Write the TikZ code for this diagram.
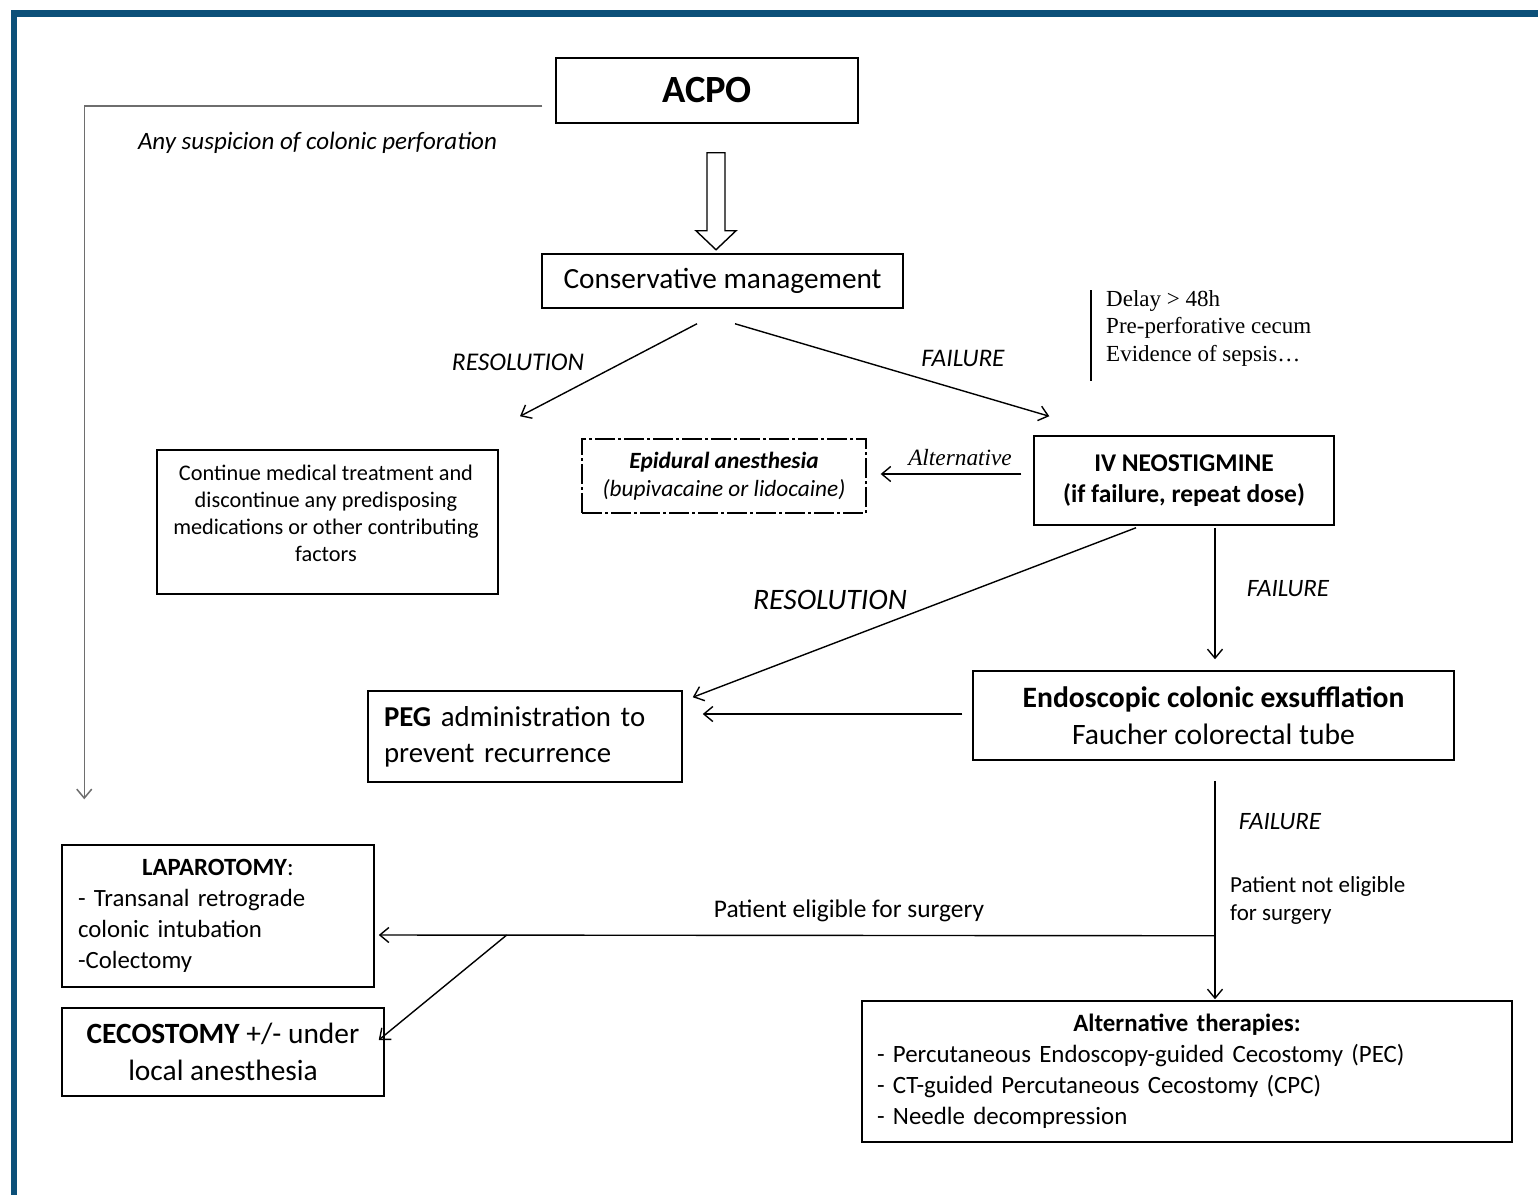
\documentclass[tikz,border=0pt]{standalone}
\usepackage{fontspec}
\setmainfont{Carlito}
\newfontfamily\tms{Liberation Serif}
\usetikzlibrary{arrows.meta,calc}
\definecolor{framecol}{RGB}{12,80,121}
\definecolor{greyline}{RGB}{110,110,110}
\newcommand\setfs[2]{\fontsize{#1}{#2}\selectfont}
\begin{document}
\begin{tikzpicture}[x=1pt,y=-1pt,
  box/.style={draw,line width=1.5pt,inner sep=0pt},
  arr/.style={line width=1.4pt,-{Straight Barb[length=9pt,width=15pt]}},
  lbl/.style={inner sep=0pt}]
\useasboundingbox (0,0) rectangle (1538,1194);
\fill[white] (0,0) rectangle (1538,1194);
\draw[framecol,line width=6.5pt] (14,1200) -- (14,13.5) -- (1545,13.5);

% boxes
\node[box,minimum width=302pt,minimum height=65pt,font=\setfs{38.5}{45}\bfseries] (acpo) at (707,90.5) {ACPO};
\node[box,minimum width=361pt,minimum height=54pt,font=\setfs{29.3}{35}] (cons) at (722.5,281) {Conservative management};
\node[box,minimum width=341pt,minimum height=144pt] (cont) at (327.5,522) {};
\node[lbl,align=center,font=\setfs{22.3}{27}] (contt) at (326,513) {Continue medical treatment and\\discontinue any predisposing\\medications or other contributing\\factors};
\node[box,dash pattern=on 20pt off 3pt on 3pt off 3pt,line width=1.3pt,minimum width=284pt,minimum height=74pt,align=center,font=\setfs{23.3}{28}] (epi) at (724,476) {\textbf{\textit{Epidural anesthesia}}\\\textit{(bupivacaine or lidocaine)}};
\node[box,minimum width=300pt,minimum height=89pt,align=center,font=\setfs{25.5}{31}\bfseries] (iv) at (1184,480.5) {IV NEOSTIGMINE\\(if failure, repeat dose)};
\node[box,minimum width=481pt,minimum height=89pt,align=center,font=\setfs{29.6}{37}] (endo) at (1213.5,715.5) {\textbf{Endoscopic colonic exsufflation}\\Faucher colorectal tube};
\node[box,minimum width=314pt,minimum height=91pt,align=left,text width=282pt,inner xsep=16pt,font=\setfs{28.8}{36}] (peg) at (525,736.5) {\textbf{PEG} administration to\\prevent recurrence};
\node[box,minimum width=312pt,minimum height=142pt,align=left,text width=280pt,inner xsep=16pt,font=\setfs{24.8}{31}] (lap) at (218,916) {\makebox[\hsize][c]{\textbf{LAPAROTOMY}:}\\- Transanal retrograde\\colonic intubation\\-Colectomy};
\node[box,minimum width=322pt,minimum height=88pt,align=center,font=\setfs{29.4}{37}] (ceco) at (223,1052) {\textbf{CECOSTOMY} +/- under\\local anesthesia};
\node[box,minimum width=650pt,minimum height=141pt,align=left,text width=620pt,inner xsep=15pt,font=\setfs{24.9}{31}] (alt) at (1187,1071.5) {\makebox[\hsize][c]{\textbf{Alternative therapies:}}\\- Percutaneous Endoscopy-guided Cecostomy (PEC)\\- CT-guided Percutaneous Cecostomy (CPC)\\- Needle decompression};

% labels
\node[lbl,font=\setfs{25}{30}\itshape] (perf) at (317.5,143) {Any suspicion of colonic perforation};
\node[lbl,font=\setfs{25.5}{30}\itshape] (res1) at (518,362) {RESOLUTION};
\node[lbl,font=\setfs{25.3}{30}\itshape] (fail1) at (963,358) {FAILURE};
\node[lbl,font=\tms\setfs{23}{27.5},align=left,anchor=west] (delay) at (1106,328) {Delay > 48h\\Pre-perforative cecum\\Evidence of sepsis…};
\node[lbl,font=\tms\setfs{23.3}{28}\itshape] (altlbl) at (960,458) {Alternative};
\node[lbl,font=\setfs{29.7}{35}\itshape] (res2) at (830,600) {RESOLUTION};
\node[lbl,font=\setfs{25}{30}\itshape] (fail2) at (1288,589) {FAILURE};
\node[lbl,font=\setfs{25}{30}\itshape] (fail3) at (1280,822) {FAILURE};
\node[lbl,font=\setfs{23}{28},align=left,anchor=west] (notel) at (1230,900) {Patient not eligible\\for surgery};
\node[lbl,font=\setfs{25.4}{30}] (elig) at (849,911) {Patient eligible for surgery};

% delay bar
\draw[line width=1.5pt] ($(delay.west)+(-15,-38)$) -- ($(delay.west)+(-15,53)$);

% hollow arrow ACPO -> conservative
\coordinate (htip) at ($(cons.north)+(-6.5,-3.5)$);
\draw[line width=1.4pt,fill=white] (htip) -- ++(20,-19) -- ++(-11,0) -- ++(0,-78) -- ++(-18,0) -- ++(0,78) -- ++(-11,0) -- cycle;

% perforation path
\draw[greyline,line width=1.5pt,-{Straight Barb[length=9pt,width=15pt]}] ($(acpo.west)+(-13,15.5)$) -| ($(lap.north west)+(23,-45)$);

% connectors
\draw[arr] ($(cons.south)+(-25.5,15)$) -- ($(cont.north)+(192.5,-33)$);
\draw[arr] ($(cons.south)+(12.5,15)$) -- ($(iv.north west)+(16,-19)$);
\draw[arr] ($(iv.west)+(-12,-6.5)$) -- ($(epi.east)+(14,-2)$);
\draw[arr] ($(iv.south)+(-48,2)$) -- ($(peg.north east)+(10,7)$);
\draw[arr] ($(iv.south)+(31,2)$) -- ($(endo.north)+(1.5,-11)$);
\draw[arr] ($(endo.west)+(-10,-1.5)$) -- ($(peg.east)+(20,-22.5)$);
\draw[arr] ($(endo.south)+(1.5,20)$) -- ($(alt.north)+(28,-1)$);
\coordinate (junc) at ($(endo.south)+(1.5,175)$);
\coordinate (branch) at ($(lap.east)+(132,19)$);
\draw[arr] (junc) -- ($(lap.east)+(4,19)$);
\draw[arr] (branch) -- ($(ceco.east)+(-6,-12)$);
\end{tikzpicture}
\end{document}
